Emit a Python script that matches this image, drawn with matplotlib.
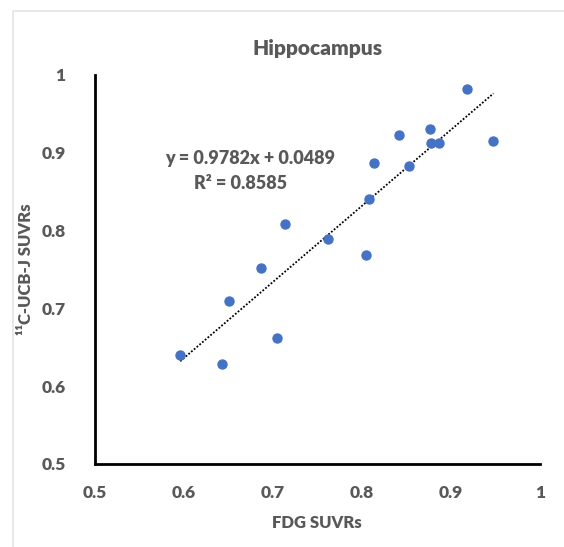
import matplotlib.pyplot as plt
from matplotlib.patches import Rectangle

plt.rcParams['font.family'] = ['Lato', 'DejaVu Sans']

fdg = [0.596, 0.643, 0.651, 0.687, 0.705, 0.714, 0.762, 0.805, 0.808, 0.814,
       0.842, 0.853, 0.877, 0.878, 0.887, 0.918, 0.948]
ucb = [0.640, 0.629, 0.709, 0.752, 0.662, 0.808, 0.789, 0.768, 0.841, 0.887,
       0.923, 0.883, 0.931, 0.913, 0.913, 0.982, 0.915]
slope = 0.9782
intercept = 0.0489
r2 = 0.8585
ticks = [0.5, 0.6, 0.7, 0.8, 0.9, 1]
tick_labels = ['0.5', '0.6', '0.7', '0.8', '0.9', '1']

gray = '#595959'

fig = plt.figure(figsize=(5.64, 5.47), dpi=100)
ax = fig.add_axes([0.168, 0.152, 0.789, 0.711])

# faint outer frame like the excel chart area
fig.patches.append(Rectangle((0.023, -0.01), 1.0, 0.99, transform=fig.transFigure,
                             fill=False, edgecolor='#e4e4e4', linewidth=1.2))

ax.scatter(fdg, ucb, s=42, color='#4472C4', zorder=3)

x0, x1 = min(fdg), max(fdg)
ax.plot([x0, x1], [slope * x0 + intercept, slope * x1 + intercept],
        linestyle=(0, (1, 1)), color='black', linewidth=1.3, zorder=2)

ax.text(0.674, 0.893, 'y = %.4fx + %.4f' % (slope, intercept), ha='center', va='center',
        fontsize=13, fontweight='heavy', color=gray)
ax.text(0.664, 0.861, 'R² = %.4f' % r2, ha='center', va='center',
        fontsize=13, fontweight='heavy', color=gray)

ax.set_xlim(0.5, 1)
ax.set_ylim(0.5, 1)
ax.set_xticks(ticks)
ax.set_xticklabels(tick_labels)
ax.set_yticks(ticks)
ax.set_yticklabels(tick_labels)
ax.tick_params(length=0, labelsize=12.5, labelcolor=gray)
ax.tick_params(axis='x', pad=15)
ax.tick_params(axis='y', pad=21)
for lab in ax.get_xticklabels() + ax.get_yticklabels():
    lab.set_fontweight('heavy')

for s in ['top', 'right']:
    ax.spines[s].set_visible(False)
for s in ['left', 'bottom']:
    ax.spines[s].set_linewidth(2)
    ax.spines[s].set_color('black')

ax.set_title('Hippocampus', fontsize=15, fontweight='heavy', color=gray, pad=14)
ax.set_xlabel('FDG SUVRs', fontsize=12, fontweight='heavy', color=gray, labelpad=10)
ax.set_ylabel('¹¹C-UCB-J SUVRs', fontsize=12, fontweight='heavy', color=gray, labelpad=5)

fig.savefig('out.png', dpi=100)
